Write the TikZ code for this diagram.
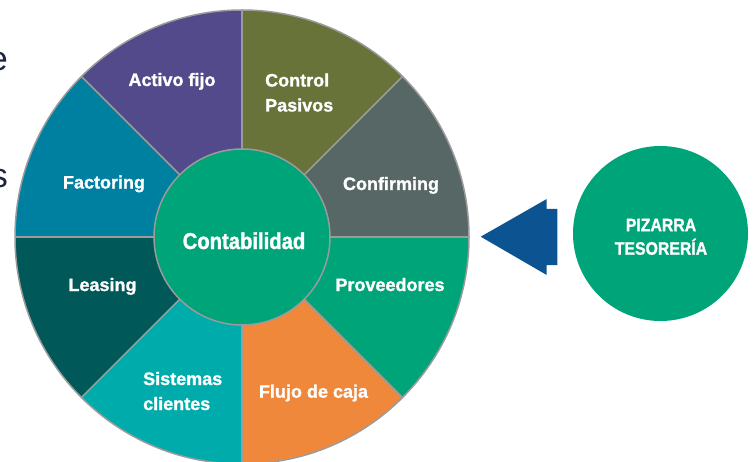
\documentclass[tikz,border=0pt]{standalone}
\usepackage{fontspec}
\setmainfont{Liberation Sans}
\newfontfamily\lab{Liberation Sans}[BoldFeatures={FakeBold=1.2}]
\newfontfamily\labc{Liberation Sans}[FakeStretch=0.88, BoldFeatures={FakeBold=1.2}]
\definecolor{cpurple}{HTML}{524A8A}
\definecolor{colive}{HTML}{68733A}
\definecolor{cslate}{HTML}{566765}
\definecolor{cgreen}{HTML}{00A479}
\definecolor{corange}{HTML}{F0883C}
\definecolor{cteal}{HTML}{00ABAB}
\definecolor{cdteal}{HTML}{005858}
\definecolor{cbteal}{HTML}{0080A0}
\definecolor{carrow}{HTML}{0B5391}
\definecolor{cborder}{HTML}{9B9B9B}
\definecolor{cnavy}{HTML}{1A2541}
\tikzset{
  seglabel/.style={text=white, font=\lab\bfseries\fontsize{18}{25}\selectfont, inner sep=0pt, anchor=base, align=center},
  seglabell/.style={seglabel, align=left},
  sep/.style={draw=cborder, line width=1.5pt},
}
\newcommand{\wseg}[2]{%
  \fill[#2] (C) -- ++(#1:227) arc[start angle=#1, end angle=#1+45, radius=227] -- cycle;}
\begin{document}
\begin{tikzpicture}[x=1pt,y=1pt]
\useasboundingbox (0,0) rectangle (754,461);
\clip (0,0) rectangle (754,461);
\fill[white] (0,0) rectangle (754,461);
\coordinate (C) at (242,224);
% wheel segments
\wseg{0}{cslate}
\wseg{45}{colive}
\wseg{90}{cpurple}
\wseg{135}{cbteal}
\wseg{180}{cdteal}
\wseg{225}{cteal}
\wseg{270}{corange}
\wseg{315}{cgreen}
\foreach \a in {0,45,...,315} {\draw[sep] (C) -- ++(\a:227);}
\draw[sep] (C) circle[radius=227];
% inner circle
\node[circle, fill=cgreen, draw=cborder, line width=1.5pt, minimum size=176pt, inner sep=0pt] (hub) at (C) {};
\node[text=white, font=\labc\bfseries\fontsize{23}{28}\selectfont, inner sep=0pt, anchor=base] (cont) at (244,212) {Contabilidad};
% segment labels
\node[seglabel] (activo) at (172,375) {Activo fijo};
\node[seglabell, anchor=base west] (control) at (265,349.5) {Control\\Pasivos};
\node[seglabel] (confirming) at (391,271) {Confirming};
\node[seglabel] (factoring) at (104,272.5) {Factoring};
\node[seglabel] (leasing) at (102.5,170) {Leasing};
\node[seglabell, anchor=base west] (sistemas) at (143,51) {Sistemas\\clientes};
\node[seglabel] (proveedores) at (390,170) {Proveedores};
\node[seglabel] (flujo) at (313.5,63.3) {Flujo de caja};
% right circle
\node[circle, fill=cgreen, minimum size=175pt, inner sep=0pt] (pizarra) at (660.5,227.5) {};
\node[text=white, font=\labc\bfseries\fontsize{18}{23.5}\selectfont, inner sep=0pt, anchor=base, align=center] (pizt) at (661,206.3) {PIZARRA\\TESORERÍA};
% block arrow
\fill[carrow] (480.7,224.3) -- (546.7,262) -- (546.7,252) -- (557.3,252) -- (557.3,196) -- (546.7,196) -- (546.7,186) -- cycle;
% cut-off text on the left edge
\node[text=cnavy, font=\fontsize{34}{40}\selectfont, inner sep=0pt, anchor=base east] (fe) at (8,390) {e};
\node[text=cnavy, font=\fontsize{34}{40}\selectfont, inner sep=0pt, anchor=base east] (fs) at (8,273) {s};
\end{tikzpicture}
\end{document}
